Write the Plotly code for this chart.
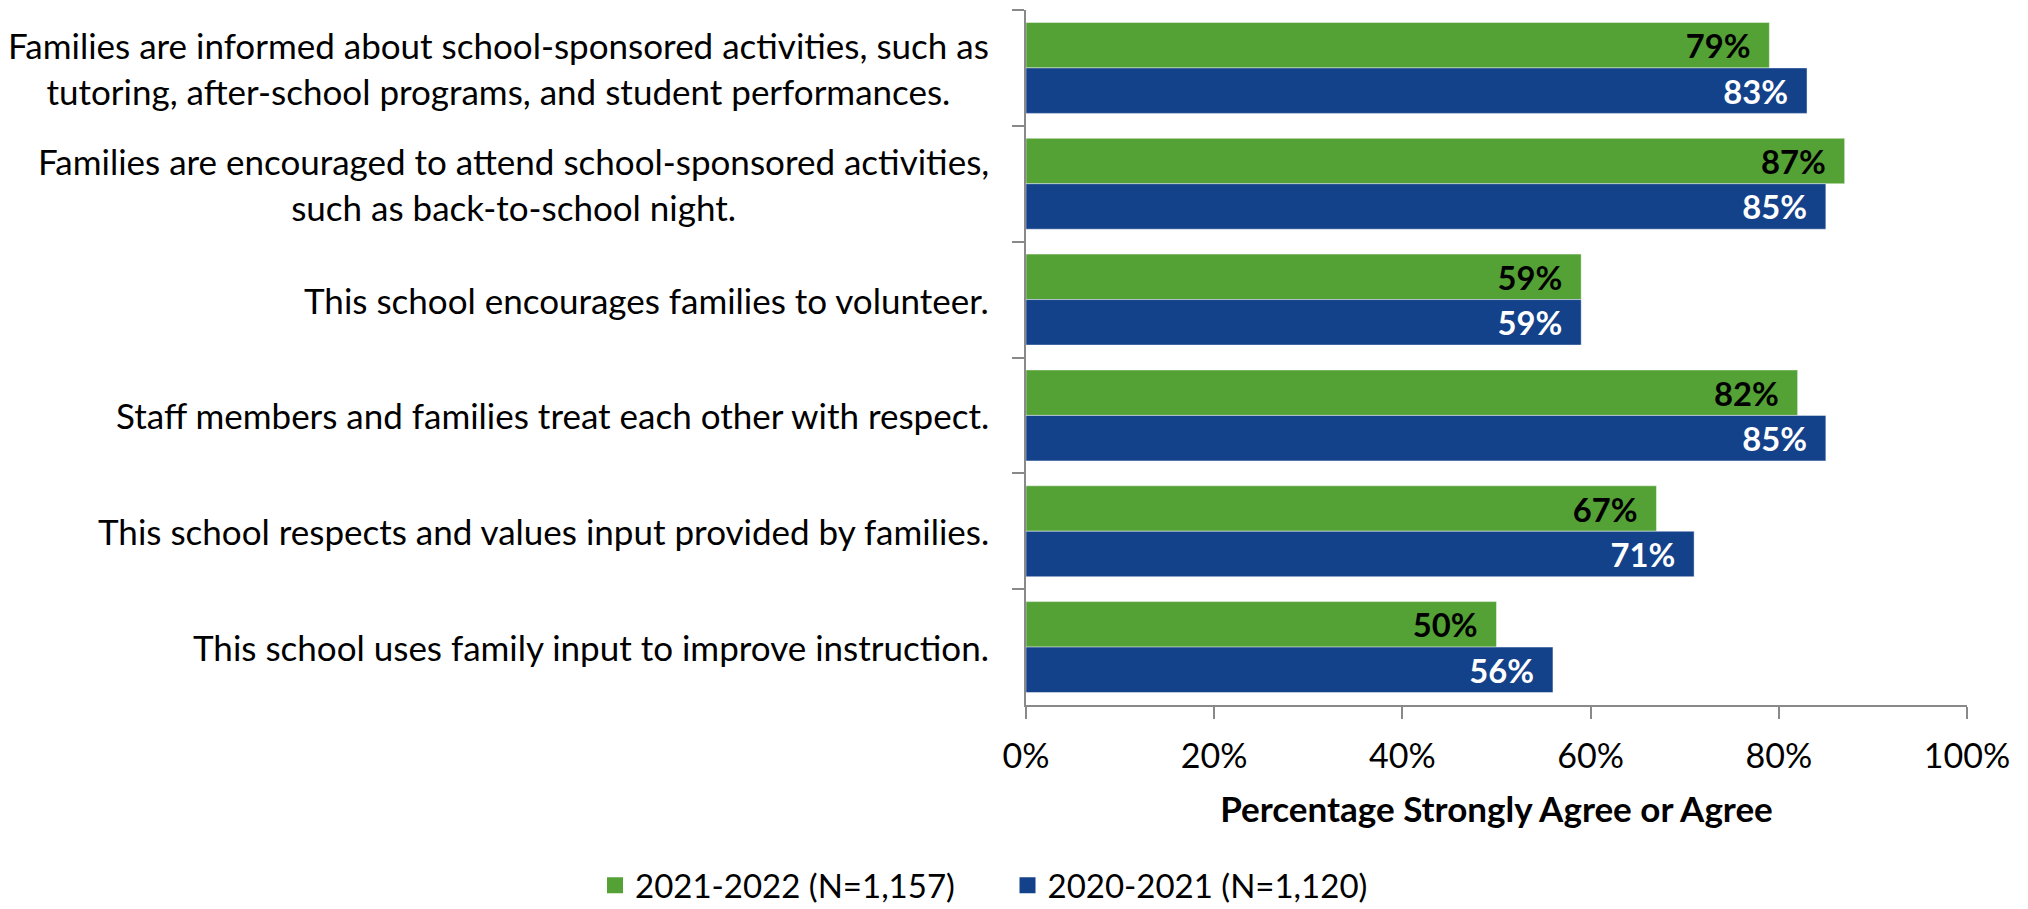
import plotly.graph_objects as go

# Survey statements (top to bottom)
statements = [
    "Families are informed about school-sponsored activities, such as<br>tutoring, after-school programs, and student performances.",
    "Families are encouraged to attend school-sponsored activities,<br>such as back-to-school night.",
    "This school encourages families to volunteer.",
    "Staff members and families treat each other with respect.",
    "This school respects and values input provided by families.",
    "This school uses family input to improve instruction.",
]
cat_ids = ["q1", "q2", "q3", "q4", "q5", "q6"]

# Percentage strongly agree or agree
pct_2122 = [79, 87, 59, 82, 67, 50]
pct_2021 = [83, 85, 59, 85, 71, 56]

series_2122 = "2021-2022 (N=1,157)"
series_2021 = "2020-2021 (N=1,120)"

x_ticks = [0, 20, 40, 60, 80, 100]

GREEN = "#54A136"
BLUE = "#13418A"
AXIS = "#898989"
FONT = "Lato"
PAD = "\u00a0\u00a0"  # breathing room between value label and bar end

fig = go.Figure()
for vals, name, color, txtcolor, leg in [
    (pct_2122, series_2122, GREEN, "black", "legend"),
    (pct_2021, series_2021, BLUE, "white", "legend2"),
]:
    fig.add_trace(go.Bar(
        y=cat_ids, x=vals, orientation="h", name=name,
        marker=dict(color=color, line=dict(color="rgba(255,255,255,0.45)", width=1)),
        showlegend=False,
        text=[f"{v}%{PAD}" for v in vals], textposition="inside",
        insidetextanchor="end",
        textfont=dict(family=FONT, size=34, color=txtcolor, weight="bold"),
        cliponaxis=False,
    ))
    # legend swatch
    fig.add_trace(go.Scatter(
        x=[None], y=[None], mode="markers", name=name, legend=leg,
        marker=dict(symbol="square", size=21, color=color),
        showlegend=True,
    ))

# Category labels, centred multi-line text left of the axis
annotations = []
for cid, label in zip(cat_ids, statements):
    annotations.append(dict(
        x=-0.037, xref="paper", y=cid, yref="y",
        text=label, showarrow=False, xanchor="right", yanchor="middle",
        align="center", font=dict(family=FONT, size=35, color="black"),
    ))

legend_style = dict(
    orientation="h", xref="container", xanchor="left",
    y=0.026, yref="container", yanchor="middle",
    font=dict(family=FONT, size=33, color="black"),
    itemsizing="trace", bgcolor="rgba(0,0,0,0)",
)

fig.update_layout(
    width=2028, height=909,
    margin=dict(l=1026, r=61, t=10, b=204, autoexpand=False),
    paper_bgcolor="white", plot_bgcolor="white",
    barmode="group", bargap=0.215, bargroupgap=0,
    font=dict(family=FONT, size=34, color="black"),
    uniformtext=dict(minsize=20, mode="show"),
    annotations=annotations,
    showlegend=True,
    legend=dict(x=0.2934, **legend_style),
    legend2=dict(x=0.4968, **legend_style),
    xaxis=dict(
        range=[0, 100], tickvals=x_ticks,
        ticktext=[f"{t}%" for t in x_ticks],
        showgrid=False, zeroline=False, automargin=False,
        showline=True, linecolor=AXIS, linewidth=2,
        ticks="outside", ticklen=12, tickwidth=2, tickcolor=AXIS,
        ticklabelstandoff=8,
        tickfont=dict(family=FONT, size=34, color="black"),
        title=dict(text="<b>Percentage Strongly Agree or Agree</b>",
                   font=dict(family=FONT, size=35, color="black"), standoff=24),
    ),
    yaxis=dict(
        type="category", autorange="reversed", automargin=False,
        showticklabels=False, showgrid=False, zeroline=False,
        showline=True, linecolor=AXIS, linewidth=2,
        ticks="outside", tickson="boundaries", ticklen=12, tickwidth=2,
        tickcolor=AXIS,
    ),
)

fig.write_html("out.html")
